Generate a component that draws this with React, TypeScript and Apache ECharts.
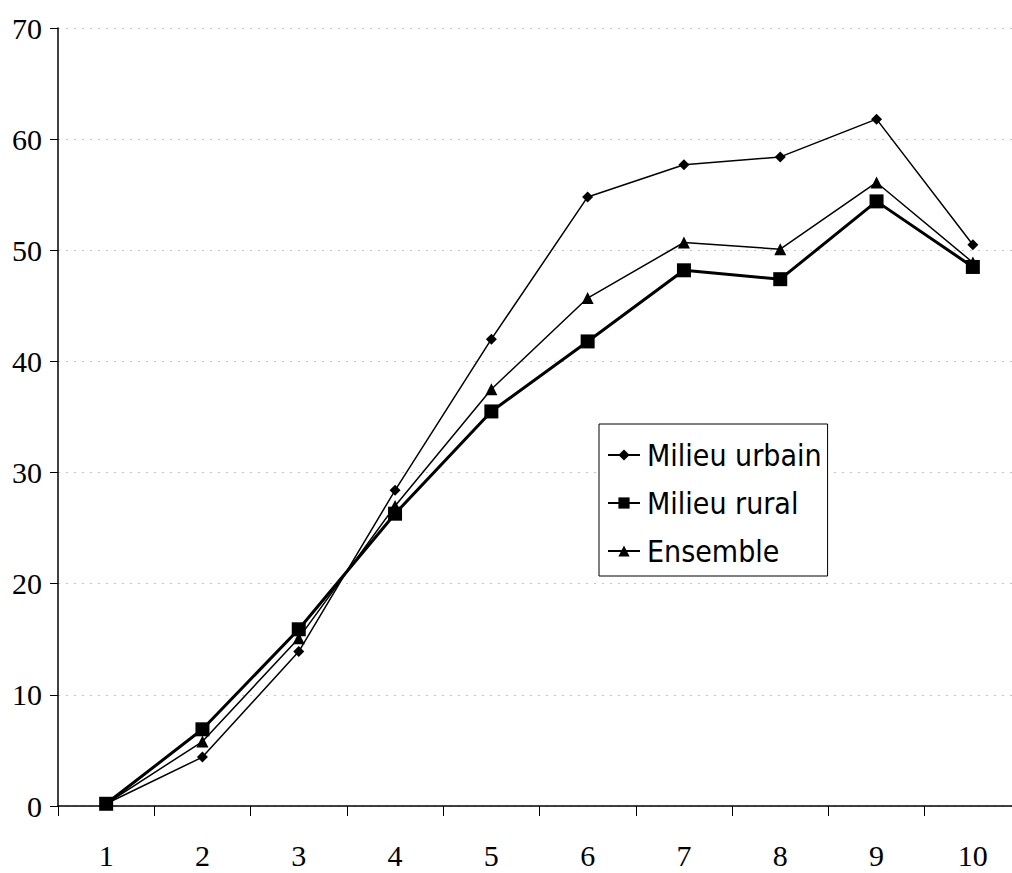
import React, { useEffect, useRef } from "react";
import * as echarts from "echarts";

const categories = ["1", "2", "3", "4", "5", "6", "7", "8", "9", "10"];
const urbain = [0.2, 4.4, 13.9, 28.4, 42.0, 54.8, 57.7, 58.4, 61.8, 50.5];
const rural = [0.2, 6.9, 15.9, 26.3, 35.5, 41.8, 48.2, 47.4, 54.4, 48.5];
const ensemble = [0.2, 5.8, 15.1, 27.0, 37.5, 45.7, 50.7, 50.1, 56.1, 48.9];

export default function App() {
  const ref = useRef<HTMLDivElement>(null);
  useEffect(() => {
    const chart = echarts.init(ref.current!, null, { renderer: "svg" });
    const serif = "Liberation Serif";
    const narrow = "Liberation Sans Narrow, DejaVu Sans Condensed, sans-serif";
    chart.setOption({
      animation: false,
      backgroundColor: "#ffffff",
      grid: {
        left: 58,
        width: 963,
        top: 28,
        height: 778,
        containLabel: false,
        outerBoundsMode: "none",
      },
      legend: {
        orient: "vertical",
        left: 599,
        top: 424,
        padding: [16, 6, 10, 8],
        itemGap: 18,
        itemWidth: 32,
        itemHeight: 14,
        borderColor: "#000",
        borderWidth: 1,
        backgroundColor: "#fff",
        textStyle: { fontFamily: narrow, fontSize: 30, color: "#000", padding: [0, 0, 0, 2] },
        data: ["Milieu urbain", "Milieu rural", "Ensemble"],
      },
      xAxis: {
        type: "category",
        data: categories,
        boundaryGap: true,
        axisLine: { lineStyle: { color: "#000", width: 1.5 } },
        axisTick: { show: true, length: 10, lineStyle: { color: "#000" } },
        axisLabel: { fontFamily: serif, fontSize: 30, color: "#000", margin: 34 },
        splitLine: { show: false },
      },
      yAxis: {
        type: "value",
        min: 0,
        max: 70,
        interval: 10,
        axisLine: { show: true, lineStyle: { color: "#000", width: 1.5 } },
        axisTick: { show: true, length: 8, lineStyle: { color: "#000" } },
        axisLabel: { fontFamily: serif, fontSize: 30, color: "#000", margin: 16 },
        splitLine: { show: true, lineStyle: { color: "#c4c4c4", type: [2, 6], width: 1 } },
      },
      series: [
        {
          name: "Milieu urbain",
          type: "line",
          data: urbain,
          symbol: "diamond",
          symbolSize: 11,
          itemStyle: { color: "#000" },
          lineStyle: { color: "#000", width: 1.5 },
          z: 3,
        },
        {
          name: "Milieu rural",
          type: "line",
          data: rural,
          symbol: "rect",
          symbolSize: 14,
          itemStyle: { color: "#000" },
          lineStyle: { color: "#000", width: 3 },
          z: 2,
        },
        {
          name: "Ensemble",
          type: "line",
          data: ensemble,
          symbol: "triangle",
          symbolSize: 12,
          itemStyle: { color: "#000" },
          lineStyle: { color: "#000", width: 1.5 },
          z: 4,
        },
      ],
    });
    return () => chart.dispose();
  }, []);
  return (
    <div
      ref={ref}
      style={{ position: "fixed", left: 0, top: 0, width: 1012, height: 873, background: "#fff" }}
    />
  );
}
